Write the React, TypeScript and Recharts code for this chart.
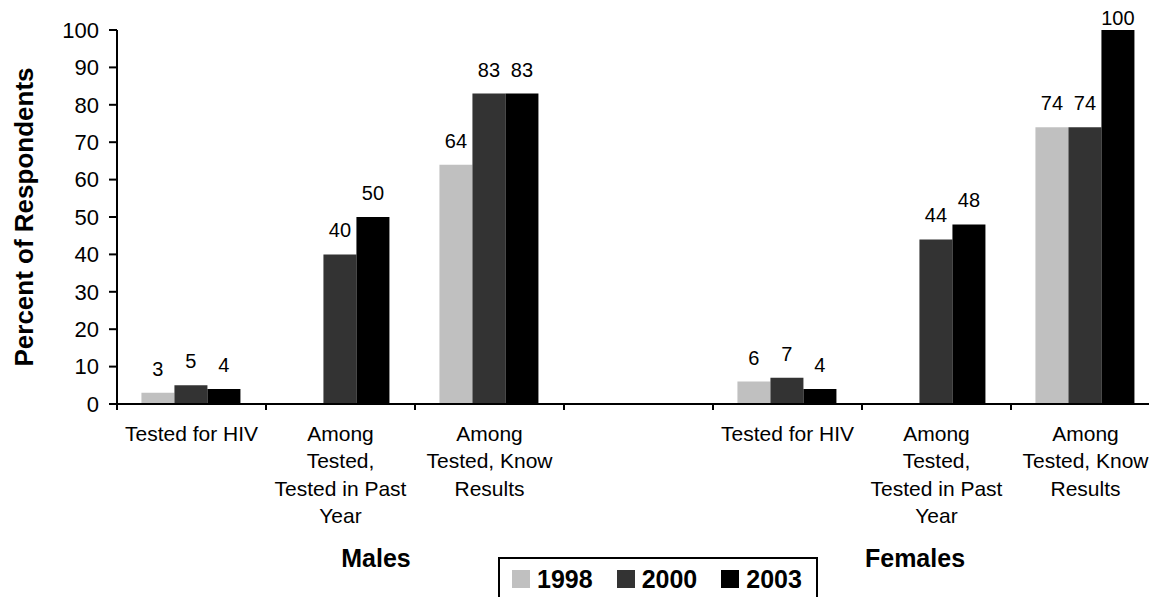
import React from 'react';
import { BarChart, Bar, XAxis, YAxis, Legend, LabelList } from 'recharts';

const categories = ['M-tested', 'M-pastyear', 'M-know', 'gap', 'F-tested', 'F-pastyear', 'F-know'];
const tickLines = [
  ['Tested for HIV'],
  ['Among', 'Tested,', 'Tested in Past', 'Year'],
  ['Among', 'Tested, Know', 'Results'],
  [],
  ['Tested for HIV'],
  ['Among', 'Tested,', 'Tested in Past', 'Year'],
  ['Among', 'Tested, Know', 'Results'],
];
const years = ['1998', '2000', '2003'];
const values1998 = [3, null, 64, null, 6, null, 74];
const values2000 = [5, 40, 83, null, 7, 44, 74];
const values2003 = [4, 50, 83, null, 4, 48, 100];
const yTicks = [0, 10, 20, 30, 40, 50, 60, 70, 80, 90, 100];
const groupLabels = ['Males', 'Females'];

const colors: Record<string, string> = { '1998': '#c0c0c0', '2000': '#333333', '2003': '#000000' };
const FONT = '"Liberation Sans", Arial, sans-serif';

const data = categories.map((c, i) => ({
  cat: c,
  '1998': values1998[i],
  '2000': values2000[i],
  '2003': values2003[i],
}));

// chart geometry
const CHART_W = 1175;
const CHART_H = 597;
const Y_AXIS_W = 117;
const MARGIN = { top: 30, right: 15, bottom: 0, left: 0 };
const X_AXIS_H = 193;
const PLOT_W = CHART_W - MARGIN.left - MARGIN.right - Y_AXIS_W;
const HALF_BAND = PLOT_W / categories.length / 2;

// excel style: tick marks sit between categories, labels wrap over lines
function CategoryTick(props: any) {
  const { x, y, index } = props;
  const lines = tickLines[index] || [];
  return (
    <g>
      <line x1={x - HALF_BAND} y1={y} x2={x - HALF_BAND} y2={y + 6} stroke="#000" strokeWidth={2} />
      {index === categories.length - 1 && (
        <line x1={x + HALF_BAND} y1={y} x2={x + HALF_BAND} y2={y + 6} stroke="#000" strokeWidth={2} />
      )}
      <text textAnchor="middle" fontFamily={FONT} fontSize={21} fill="#000">
        {lines.map((l, i) => (
          <tspan key={i} x={x} y={y + 37 + i * 27.3}>
            {l}
          </tspan>
        ))}
      </text>
    </g>
  );
}

// value labels, clamped so they stay inside the plot like excel does
function ValueLabel(props: any) {
  const { x, y, width, value } = props;
  if (value == null) return null;
  const baseline = Math.max(y - 17, MARGIN.top - 5);
  return (
    <text x={x + width / 2} y={baseline} textAnchor="middle" fontFamily={FONT} fontSize={20} fill="#000">
      {value}
    </text>
  );
}

function LegendBox() {
  return (
    <div
      style={{
        border: '2px solid #000',
        background: '#fff',
        width: 320,
        height: 60,
        boxSizing: 'border-box',
        display: 'flex',
        alignItems: 'center',
        alignSelf: 'flex-start',
        paddingLeft: 12,
        paddingBottom: 16,
        fontFamily: FONT,
        fontWeight: 'bold',
        fontSize: 25,
        color: '#000',
      }}
    >
      {years.map((yr, i) => (
        <div key={yr} style={{ display: 'flex', alignItems: 'center', marginRight: i < years.length - 1 ? 24 : 0 }}>
          <span style={{ width: 18, height: 18, background: colors[yr], display: 'inline-block', marginRight: 7 }} />
          <span style={{ lineHeight: '24px' }}>{yr}</span>
        </div>
      ))}
    </div>
  );
}

export default function App() {
  return (
    <div style={{ position: 'absolute', left: 0, top: 0, width: 1149, height: 597, overflow: 'hidden', background: '#fff' }}>
      <BarChart
        width={CHART_W}
        height={CHART_H}
        data={data}
        margin={MARGIN}
        barCategoryGap="16.4%"
        barGap={0}
      >
        <XAxis
          dataKey="cat"
          height={X_AXIS_H}
          interval={0}
          tickLine={false}
          tickSize={0}
          tickMargin={0}
          axisLine={{ stroke: '#000', strokeWidth: 2 }}
          tick={<CategoryTick />}
        />
        <YAxis
          width={Y_AXIS_W}
          domain={[0, 100]}
          ticks={yTicks}
          interval={0}
          tickSize={8}
          tickMargin={10}
          axisLine={{ stroke: '#000', strokeWidth: 2 }}
          tickLine={{ stroke: '#000', strokeWidth: 2 }}
          tick={{ fill: '#000', fontSize: 22, fontFamily: FONT }}
          label={{
            value: 'Percent of Respondents',
            angle: -90,
            position: 'insideLeft',
            offset: 24,
            style: { textAnchor: 'middle', fontFamily: FONT, fontWeight: 'bold', fontSize: 26, fill: '#000' },
          }}
        />
        <Legend
          layout="horizontal"
          verticalAlign="middle"
          align="center"
          content={() => <LegendBox />}
          wrapperStyle={{ left: 498, top: 557, width: 320 }}
        />
        {years.map((yr) => (
          <Bar key={yr} dataKey={yr} fill={colors[yr]} isAnimationActive={false}>
            <LabelList dataKey={yr} content={<ValueLabel />} />
          </Bar>
        ))}
      </BarChart>
      {groupLabels.map((g, i) => (
        <div
          key={g}
          style={{
            position: 'absolute',
            left: i === 0 ? 316 : 855,
            top: 545,
            width: 120,
            textAlign: 'center',
            fontFamily: FONT,
            fontWeight: 'bold',
            fontSize: 25,
            lineHeight: '26px',
            color: '#000',
          }}
        >
          {g}
        </div>
      ))}
    </div>
  );
}
